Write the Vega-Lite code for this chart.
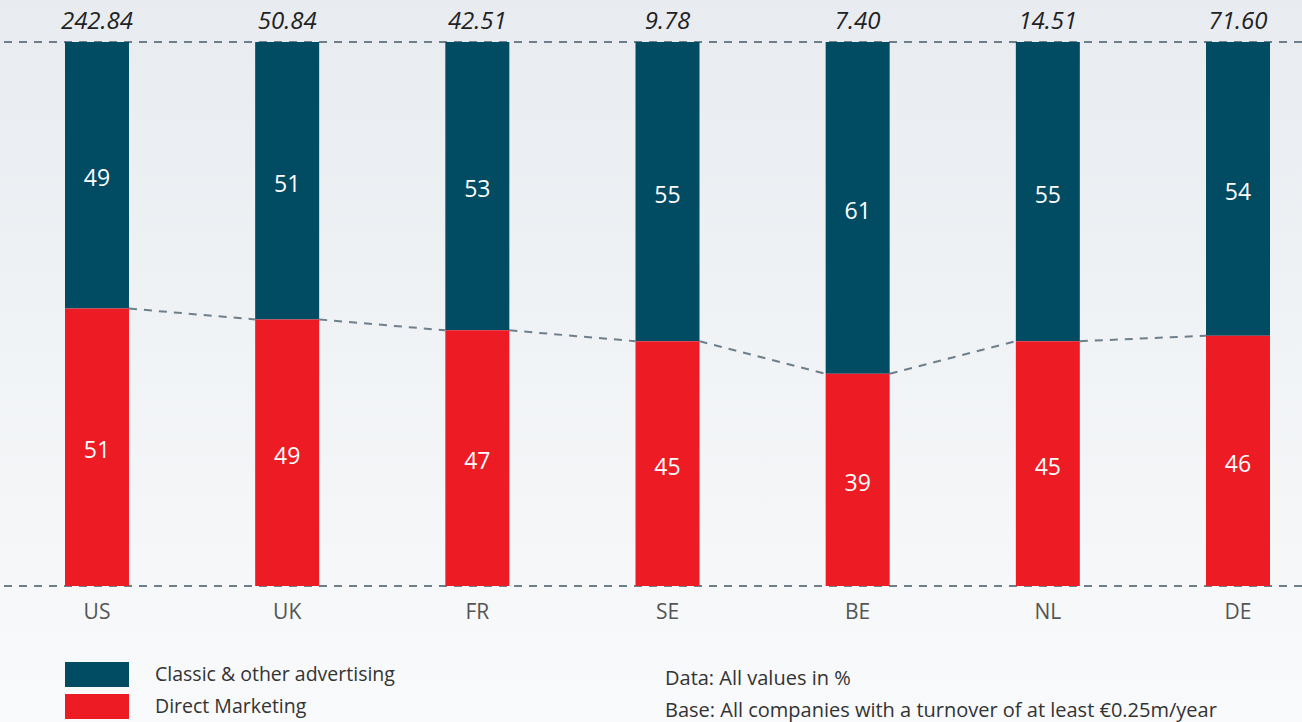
{
  "$schema": "https://vega.github.io/schema/vega-lite/v6.json",
  "width": 1302,
  "height": 722,
  "autosize": {"type": "none"},
  "padding": 0,
  "background": "#f4f6f8",
  "config": {
    "font": "Open Sans",
    "view": {
      "stroke": null,
      "fill": {"gradient": "linear", "x1": 0, "y1": 0, "x2": 0, "y2": 1, "stops": [{"offset": 0, "color": "#e8ecf0"}, {"offset": 1, "color": "#f9fafb"}]}
    }
  },
  "title": {
    "text": ["Data: All values in %", "Base: All companies with a turnover of at least €0.25m/year"],
    "orient": "bottom",
    "anchor": "start",
    "frame": "group",
    "offset": -53,
    "dx": 665,
    "fontSize": 20,
    "fontWeight": "normal",
    "color": "#333333",
    "lineHeight": 32
  },
  "data": {
    "values": [
      {"country": "US", "segment": "Classic & other advertising", "share": 49, "total": 242.84},
      {"country": "US", "segment": "Direct Marketing", "share": 51, "total": 242.84},
      {"country": "UK", "segment": "Classic & other advertising", "share": 51, "total": 50.84},
      {"country": "UK", "segment": "Direct Marketing", "share": 49, "total": 50.84},
      {"country": "FR", "segment": "Classic & other advertising", "share": 53, "total": 42.51},
      {"country": "FR", "segment": "Direct Marketing", "share": 47, "total": 42.51},
      {"country": "SE", "segment": "Classic & other advertising", "share": 55, "total": 9.78},
      {"country": "SE", "segment": "Direct Marketing", "share": 45, "total": 9.78},
      {"country": "BE", "segment": "Classic & other advertising", "share": 61, "total": 7.40},
      {"country": "BE", "segment": "Direct Marketing", "share": 39, "total": 7.40},
      {"country": "NL", "segment": "Classic & other advertising", "share": 55, "total": 14.51},
      {"country": "NL", "segment": "Direct Marketing", "share": 45, "total": 14.51},
      {"country": "DE", "segment": "Classic & other advertising", "share": 54, "total": 71.60},
      {"country": "DE", "segment": "Direct Marketing", "share": 46, "total": 71.60}
    ]
  },
  "encoding": {
    "x": {
      "field": "country",
      "type": "nominal",
      "scale": {"domain": ["US", "UK", "FR", "SE", "BE", "NL", "DE"], "range": [65, 1270], "paddingInner": 0.6635, "paddingOuter": 0},
      "axis": {"orient": "bottom", "offset": -136, "domain": false, "ticks": false, "labelPadding": 15, "labelFontSize": 21, "labelColor": "#555555", "labelAngle": 0, "title": null, "grid": false}
    }
  },
  "layer": [
    {
      "transform": [{"aggregate": [{"op": "count", "as": "n"}]}],
      "mark": {"type": "rule", "color": "#6e7f8c", "strokeWidth": 2, "strokeDash": [8, 7]},
      "encoding": {"x": null, "y": {"datum": 100, "type": "quantitative", "scale": {"domain": [-25, 107.72], "nice": false, "zero": false}, "axis": null}}
    },
    {
      "transform": [{"aggregate": [{"op": "count", "as": "n"}]}],
      "mark": {"type": "rule", "color": "#6e7f8c", "strokeWidth": 2, "strokeDash": [8, 7]},
      "encoding": {"x": null, "y": {"datum": 0, "type": "quantitative"}}
    },
    {
      "transform": [
        {"filter": "datum.segment === 'Direct Marketing'"},
        {"window": [{"op": "lead", "field": "country", "as": "next"}, {"op": "lead", "field": "share", "as": "nextShare"}]},
        {"filter": "datum.next != null"}
      ],
      "mark": {"type": "rule", "color": "#6e7f8c", "strokeWidth": 2, "strokeDash": [8, 7]},
      "encoding": {
        "x": {"field": "country", "type": "nominal", "bandPosition": 1},
        "x2": {"field": "next", "bandPosition": 0},
        "y": {"field": "share", "type": "quantitative"},
        "y2": {"field": "nextShare"}
      }
    },
    {
      "mark": {"type": "bar"},
      "encoding": {
        "y": {"field": "share", "type": "quantitative", "stack": "zero"},
        "color": {
          "field": "segment",
          "type": "nominal",
          "scale": {"domain": ["Classic & other advertising", "Direct Marketing"], "range": ["#014b63", "#ed1c24"]},
          "legend": {
            "orient": "none",
            "legendX": 84.5,
            "legendY": 662,
            "title": null,
            "symbolType": "M-2.56,-1L2.56,-1L2.56,1L-2.56,1Z",
            "symbolSize": 625,
            "symbolStrokeWidth": 0,
            "symbolOpacity": 1,
            "labelFontSize": 19.5,
            "labelColor": "#333333",
            "labelOffset": 45.5,
            "labelLimit": 500,
            "rowPadding": 7
          }
        },
        "order": {"field": "segment", "sort": "descending"}
      }
    },
    {
      "mark": {"type": "text", "color": "white", "fontSize": 23, "dy": 4},
      "encoding": {
        "y": {"field": "share", "type": "quantitative", "stack": "zero", "bandPosition": 0.5},
        "detail": {"field": "segment"},
        "order": {"field": "segment", "sort": "descending"},
        "text": {"field": "share", "type": "quantitative"}
      }
    },
    {
      "transform": [{"filter": "datum.segment === 'Direct Marketing'"}],
      "mark": {"type": "text", "color": "#222222", "fontSize": 24, "fontStyle": "italic", "baseline": "alphabetic", "dy": -13},
      "encoding": {
        "y": {"datum": 100, "type": "quantitative"},
        "text": {"field": "total", "type": "quantitative", "format": ".2f"}
      }
    }
  ]
}
